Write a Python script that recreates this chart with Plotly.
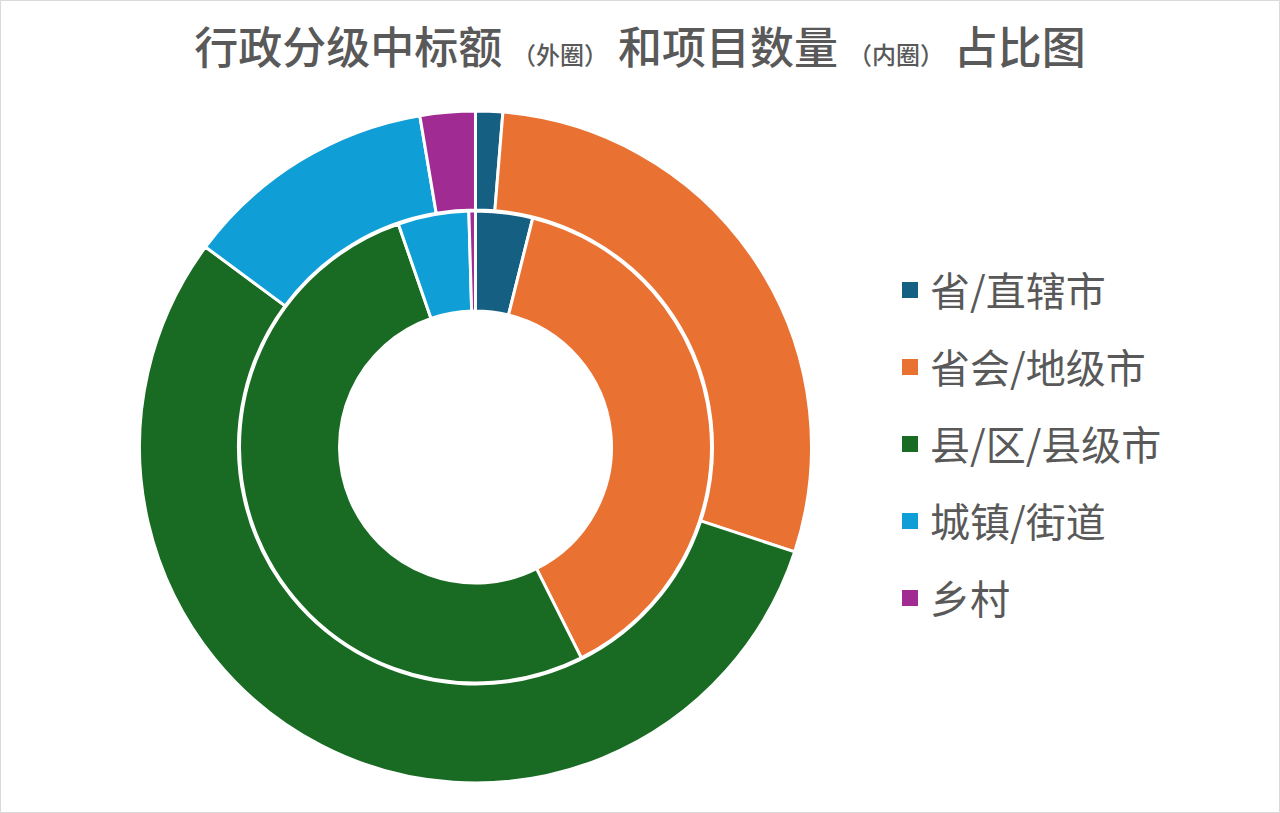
import plotly.graph_objects as go

categories = ["省/直辖市", "省会/地级市", "县/区/县级市", "城镇/街道", "乡村"]
amount_share = [1.3, 28.75, 55.1, 12.2, 2.65]      # 外圈：中标额占比(%)
count_share = [3.9, 38.7, 52.1, 4.85, 0.45]        # 内圈：项目数量占比(%)
colors = ["#156082", "#E97132", "#196B24", "#0F9ED5", "#A02B93"]

W, H = 1280, 813
FONT = "Noto Sans CJK SC"
GRAY = "#595959"
CX, CY = 475.5, 447
R_OUT, R_MID, R_IN = 336, 236, 136

fig = go.Figure()

# outer ring
fig.add_trace(go.Pie(
    labels=categories, values=amount_share, hole=(R_MID + 1) / R_OUT,
    sort=False, direction="clockwise", rotation=0,
    marker=dict(colors=colors, line=dict(color="white", width=3)),
    textinfo="none", showlegend=False,
    domain=dict(x=[(CX - R_OUT) / W, (CX + R_OUT) / W],
                y=[1 - (CY + R_OUT) / H, 1 - (CY - R_OUT) / H]),
))
# inner ring
fig.add_trace(go.Pie(
    labels=categories, values=count_share, hole=R_IN / R_MID,
    sort=False, direction="clockwise", rotation=0,
    marker=dict(colors=colors, line=dict(color="white", width=3)),
    textinfo="none", showlegend=False,
    domain=dict(x=[(CX - R_MID) / W, (CX + R_MID) / W],
                y=[1 - (CY + R_MID) / H, 1 - (CY - R_MID) / H]),
))

# legend entries
for name, c in zip(categories, colors):
    fig.add_trace(go.Scatter(
        x=[None], y=[None], mode="markers", name=name, legendgroup=name,
        marker=dict(symbol="square", size=17, color=c),
    ))

fig.update_layout(
    width=W, height=H,
    margin=dict(l=0, r=0, t=0, b=0),
    paper_bgcolor="white", plot_bgcolor="rgba(0,0,0,0)",
    xaxis=dict(visible=False), yaxis=dict(visible=False),
    font=dict(family=FONT, color=GRAY),
    title=dict(
        text="行政分级中标额 <span style='font-size:24px'>（外圈）</span> 和项目数量 "
             "<span style='font-size:24px'>（内圈）</span> 占比图",
        x=0.5, xanchor="center", y=1 - 49 / H, yanchor="middle",
        font=dict(family=FONT, size=44, color=GRAY, weight=500),
    ),
    legend=dict(
        x=890 / W, xanchor="left", y=1 - 444 / H, yanchor="middle",
        font=dict(family=FONT, size=40, color=GRAY),
        tracegroupgap=22, bgcolor="rgba(0,0,0,0)",
    ),
    shapes=[dict(type="rect", xref="paper", yref="paper", x0=0.0004, y0=0.0006,
                 x1=0.9996, y1=0.9994, line=dict(color="#D9D9D9", width=1))],
)

fig.write_html("out.html")
